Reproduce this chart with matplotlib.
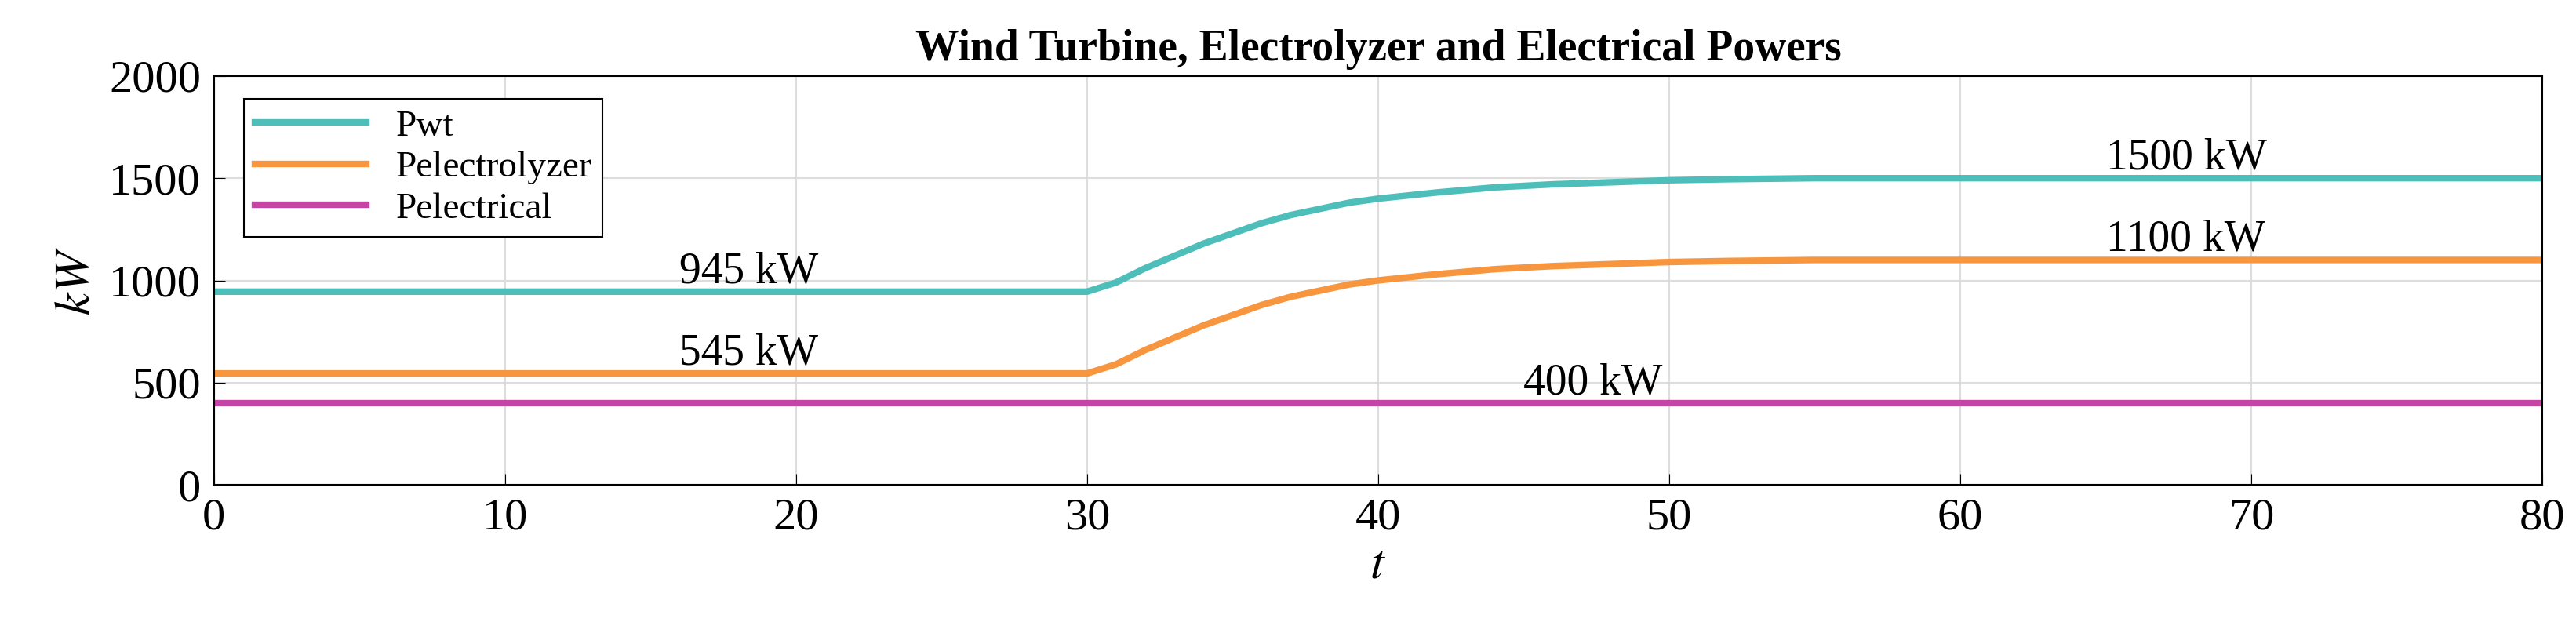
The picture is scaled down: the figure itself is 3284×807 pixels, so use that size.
import matplotlib
matplotlib.use("Agg")
import matplotlib.pyplot as plt

t = [0, 30, 31, 32, 33, 34, 35, 36, 37, 38, 39, 40, 42, 44, 46, 48, 50, 52, 55, 80]
p_wt = [945, 945, 990, 1060, 1120, 1180, 1230, 1280, 1320, 1350, 1380, 1400, 1430, 1455, 1470, 1480, 1490, 1495, 1500, 1500]
p_el = [545, 545, 590, 660, 720, 780, 830, 880, 920, 950, 980, 1000, 1030, 1055, 1070, 1080, 1090, 1095, 1100, 1100]
t_e = [0, 80]
p_elec = [400, 400]
annots = [("945 kW", 16, 990), ("545 kW", 16, 590), ("400 kW", 45, 445), ("1500 kW", 65, 1545), ("1100 kW", 65, 1145)]

plt.rcParams['font.family'] = ['Liberation Serif', 'DejaVu Serif']
plt.rcParams['mathtext.fontset'] = 'stix'
fig = plt.figure(figsize=(32.84, 8.07), dpi=100)
ax = fig.add_axes([0.083, 0.234, 0.904, 0.646])
ax.plot(t, p_wt, color='#4dbeba', lw=6, label='Pwt')
ax.plot(t, p_el, color='#f7963e', lw=6, label='Pelectrolyzer')
ax.plot(t_e, p_elec, color='#c545a4', lw=6, label='Pelectrical')
for s, x, y in annots:
    ax.text(x, y, s, fontsize=40)
ax.set_xlim(0, 80)
ax.set_ylim(0, 2000)
ax.set_xticks(range(0, 81, 10))
ax.set_yticks(range(0, 2001, 500))
ax.tick_params(labelsize=42, direction='in', length=10, pad=12)
ax.grid(True, color='#dddddd', lw=1.5)
ax.set_xlabel('$t$', fontsize=46, labelpad=4)
ax.set_ylabel('$kW$', fontsize=46, labelpad=8)
ax.set_title('Wind Turbine, Electrolyzer and Electrical Powers', fontsize=40, fontweight='bold', pad=14)
for sp in ax.spines.values():
    sp.set_linewidth(1.5)
leg = ax.legend(loc='upper left', fontsize=34, fancybox=False, edgecolor='black', framealpha=1,
                borderpad=0.3, handlelength=3, labelspacing=0.2, bbox_to_anchor=(0.005, 0.99))
leg.get_frame().set_linewidth(1.5)
fig.savefig('out.png')
